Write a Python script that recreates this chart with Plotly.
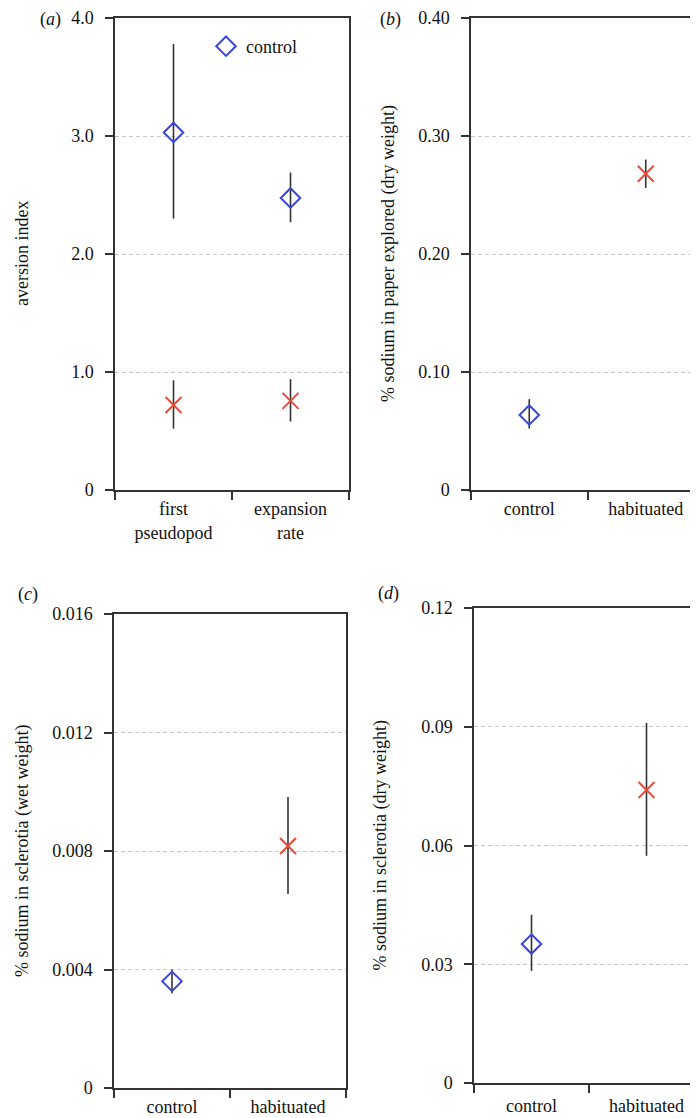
import plotly.graph_objects as go

# ---- data ----
cats_a = ["first<br>pseudopod", "expansion<br>rate"]
ctrl_a = [3.03, 2.475]
ctrl_a_hi = [3.78, 2.69]
ctrl_a_lo = [2.30, 2.27]
hab_a = [0.72, 0.755]
hab_a_hi = [0.93, 0.94]
hab_a_lo = [0.52, 0.58]

cats_bcd = ["control", "habituated"]
vals_b = [0.0636, 0.268]
hi_b = [0.077, 0.280]
lo_b = [0.052, 0.256]

vals_c = [0.0036, 0.00817]
hi_c = [0.0040, 0.00982]
lo_c = [0.0032, 0.00655]

vals_d = [0.0351, 0.0740]
hi_d = [0.0425, 0.0910]
lo_d = [0.0283, 0.0574]

yt_a = [0, 1, 2, 3, 4]
yl_a = ["0", "1.0", "2.0", "3.0", "4.0"]
yt_b = [0, 0.1, 0.2, 0.3, 0.4]
yl_b = ["0", "0.10", "0.20", "0.30", "0.40"]
yt_c = [0, 0.004, 0.008, 0.012, 0.016]
yl_c = ["0", "0.004", "0.008", "0.012", "0.016"]
yt_d = [0, 0.03, 0.06, 0.09, 0.12]
yl_d = ["0", "0.03", "0.06", "0.09", "0.12"]

W, H = 698, 1118
FONT = "Liberation Serif, Times New Roman, Times, serif"
FS = 18
BLUE = "#3a46d8"
RED = "#ea4a35"
ERR = "#333333"
AX = "#333333"

fig = go.Figure()

def px_dom_x(a, b):
    return [a / W, b / W]

def px_dom_y(top, bottom):
    return [1 - bottom / H, 1 - top / H]

panels = [
    dict(n=1, xd=(107, 341), yd=(10, 482), cats=cats_a, title="aversion index", tx=14, xso=2,
         yr=[0, 4], yt=yt_a, yl=yl_a,
         series=[(ctrl_a, ctrl_a_hi, ctrl_a_lo, "control"), (hab_a, hab_a_hi, hab_a_lo, "habituated")]),
    dict(n=2, xd=(463, 696), yd=(10, 482), cats=cats_bcd, title="% sodium in paper explored (dry weight)", tx=380, xso=2,
         yr=[0, 0.4], yt=yt_b, yl=yl_b,
         series=[([vals_b[0]], [hi_b[0]], [lo_b[0]], "control"), ([vals_b[1]], [hi_b[1]], [lo_b[1]], "habituated")]),
    dict(n=3, xd=(106, 338), yd=(606, 1080), cats=cats_bcd, title="% sodium in sclerotia (wet weight)", tx=14, xso=2,
         yr=[0, 0.016], yt=yt_c, yl=yl_c,
         series=[([vals_c[0]], [hi_c[0]], [lo_c[0]], "control"), ([vals_c[1]], [hi_c[1]], [lo_c[1]], "habituated")]),
    dict(n=4, xd=(466, 696), yd=(600, 1075), cats=cats_bcd, title="% sodium in sclerotia (dry weight)", tx=372, xso=6,
         yr=[0, 0.12], yt=yt_d, yl=yl_d,
         series=[([vals_d[0]], [hi_d[0]], [lo_d[0]], "control"), ([vals_d[1]], [hi_d[1]], [lo_d[1]], "habituated")]),
]

for p in panels:
    n = p["n"]
    xa = "x" if n == 1 else f"x{n}"
    ya = "y" if n == 1 else f"y{n}"
    for si, (v, hi, lo, name) in enumerate(p["series"]):
        if len(v) == 2:
            xs = [0.5, 1.5]
        else:
            xs = [0.5] if si == 0 else [1.5]
        is_ctrl = name == "control"
        fig.add_trace(go.Scatter(
            x=xs, y=v, mode="markers", name=name,
            xaxis=xa, yaxis=ya,
            showlegend=(n == 1 and is_ctrl),
            marker=dict(
                symbol="diamond-open" if is_ctrl else "x-thin-open",
                size=15 if is_ctrl else 16,
                color=BLUE if is_ctrl else RED,
                line=dict(width=2, color=BLUE if is_ctrl else RED),
            ),
            error_y=dict(type="data", symmetric=False,
                         array=[h - a for h, a in zip(hi, v)],
                         arrayminus=[a - l for a, l in zip(v, lo)],
                         color=ERR, thickness=1.6, width=0),
        ))
    xkey = "xaxis" if n == 1 else f"xaxis{n}"
    ykey = "yaxis" if n == 1 else f"yaxis{n}"
    fig.layout[xkey] = dict(
        domain=px_dom_x(*p["xd"]), range=[0, 2], anchor=ya,
        tickmode="array", tickvals=[0.5, 1.5], ticktext=p["cats"],
        ticks="", showgrid=False, zeroline=False, automargin=False,
        showline=True, linecolor=AX, linewidth=1.5, mirror=True,
        minor=dict(tickmode="array", tickvals=[0, 1, 2], ticks="outside",
                   ticklen=8, tickwidth=1.5, tickcolor=AX, showgrid=False),
        tickfont=dict(family=FONT, size=FS, color="#111"),
        ticklabelstandoff=p["xso"],
        fixedrange=True,
    )
    fig.layout[ykey] = dict(
        domain=px_dom_y(*p["yd"]), range=p["yr"], anchor=xa,
        tickmode="array", tickvals=p["yt"], ticktext=p["yl"],
        ticks="outside", ticklen=8, tickwidth=1.5, tickcolor=AX,
        showgrid=True, gridcolor="#c8c8c8", griddash="4px,3px", gridwidth=1,
        zeroline=False, automargin=False,
        showline=True, linecolor=AX, linewidth=1.5, mirror=True,
        tickfont=dict(family=FONT, size=FS, color="#111"),
        ticklabelstandoff=8,
        fixedrange=True,
    )
    yc = (p["yd"][0] + p["yd"][1]) / 2
    fig.add_annotation(text=p["title"], x=p["tx"] / W, y=1 - yc / H, xref="paper", yref="paper",
                       showarrow=False, textangle=-90, xanchor="center", yanchor="middle",
                       font=dict(family=FONT, size=FS, color="#111"))

labels = [("(<i>a</i>)", 42, 12), ("(<i>b</i>)", 382, 12), ("(<i>c</i>)", 20, 586), ("(<i>d</i>)", 380, 585)]
for t, x, y in labels:
    fig.add_annotation(text=t, x=x / W, y=1 - y / H, xref="paper", yref="paper",
                       showarrow=False, xanchor="center", yanchor="middle",
                       font=dict(family=FONT, size=FS, color="#111"))

fig.update_layout(
    width=W, height=H, margin=dict(l=0, r=0, t=0, b=0, autoexpand=False),
    paper_bgcolor="white", plot_bgcolor="white",
    showlegend=True,
    legend=dict(x=198 / W, y=1 - 20 / H, xanchor="left", yanchor="top",
                bgcolor="rgba(0,0,0,0)", font=dict(family=FONT, size=FS, color="#111"),
                itemwidth=30, tracegroupgap=0),
    font=dict(family=FONT, size=FS),
)

fig.write_html("out.html")
